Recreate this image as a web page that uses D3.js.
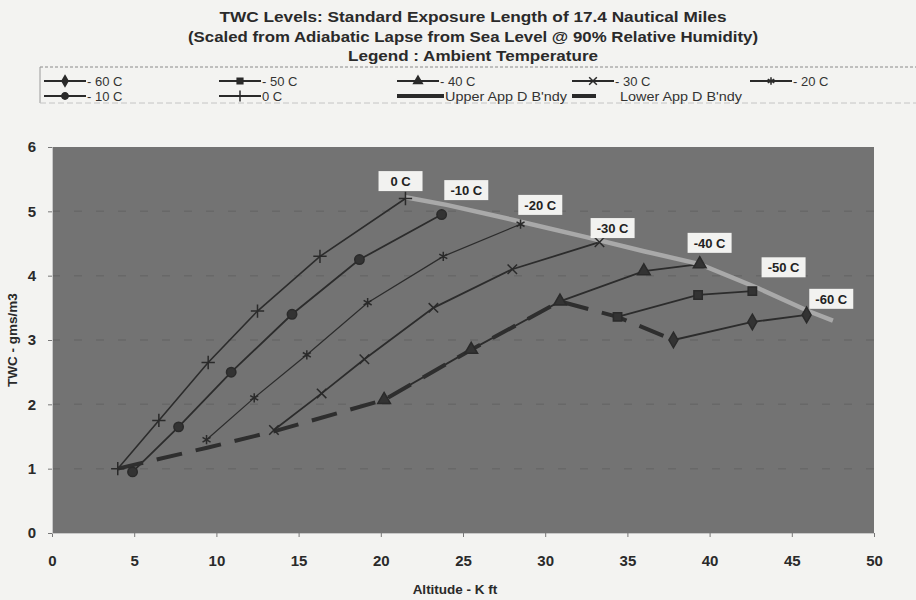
<!DOCTYPE html>
<html><head><meta charset="utf-8">
<script src="https://cdn.jsdelivr.net/npm/d3@7/dist/d3.min.js"></script>
<style>
html,body{margin:0;padding:0;background:#f3f3f1;}
svg{display:block;font-family:"Liberation Sans",Arial,sans-serif;}
</style></head>
<body>
<svg id="chart" width="916" height="600"></svg>
<script>
// ---- data ----
const titleLines = ["TWC Levels: Standard Exposure Length of 17.4 Nautical Miles",
  "(Scaled from Adiabatic Lapse from Sea Level @ 90% Relative Humidity)",
  "Legend : Ambient Temperature"];
const xTicks = [0,5,10,15,20,25,30,35,40,45,50];
const yTicks = [0,1,2,3,4,5,6];
const xTitle = "Altitude - K ft";
const yTitle = "TWC - gms/m3";

const seriesNames = ["- 60 C","- 50 C","- 40 C","- 30 C","- 20 C","- 10 C","0 C","Upper App D B'ndy","Lower App D B'ndy"];

const altM60 = [37.8, 42.6, 45.9];
const twcM60 = [3.00, 3.28, 3.39];
const altM50 = [34.4, 39.3, 42.6];
const twcM50 = [3.36, 3.70, 3.76];
const altM40 = [20.2, 25.5, 30.9, 36.0, 39.4];
const twcM40 = [2.07, 2.85, 3.60, 4.07, 4.18];
const altM30 = [13.5, 16.4, 19.0, 23.2, 28.0, 33.3];
const twcM30 = [1.60, 2.17, 2.70, 3.50, 4.10, 4.52];
const altM20 = [9.4, 12.3, 15.5, 19.2, 23.8, 28.5];
const twcM20 = [1.45, 2.10, 2.77, 3.58, 4.30, 4.80];
const altM10 = [4.9, 7.7, 10.9, 14.6, 18.7, 23.7];
const twcM10 = [0.95, 1.65, 2.50, 3.40, 4.25, 4.95];
const alt0 = [4.0, 6.5, 9.5, 12.5, 16.3, 21.5];
const twc0 = [1.00, 1.75, 2.65, 3.45, 4.30, 5.20];
const altUpper = [21.5, 24.0, 28.0, 32.5, 36.0, 39.4, 43.0, 46.0, 47.5];
const twcUpper = [5.22, 5.10, 4.87, 4.60, 4.38, 4.18, 3.80, 3.45, 3.30];
const altLower = [4.0, 9.5, 13.5, 20.2, 25.5, 30.9, 34.4, 37.8];
const twcLower = [1.00, 1.33, 1.58, 2.07, 2.85, 3.60, 3.36, 3.00];

const labelTexts = ["0 C","-10 C","-20 C","-30 C","-40 C","-50 C","-60 C"];
const labelAlt = [21.2, 25.2, 29.7, 34.1, 40.0, 44.5, 47.4];
const labelTwc = [5.47, 5.33, 5.10, 4.74, 4.51, 4.13, 3.64];

// ---- build ----
const svg = d3.select("#chart");
const x = d3.scaleLinear().domain([0,50]).range([52,874]);
const y = d3.scaleLinear().domain([0,6]).range([533,147]);

const seriesDefs = [
  {alt:altM60, twc:twcM60, sym:d3.symbolDiamond, fill:true, w:1.8},
  {alt:altM50, twc:twcM50, sym:d3.symbolSquare, fill:true, w:1.8},
  {alt:altM40, twc:twcM40, sym:d3.symbolTriangle, fill:true, w:1.8},
  {alt:altM30, twc:twcM30, sym:d3.symbolTimes, fill:false, w:1.8},
  {alt:altM20, twc:twcM20, sym:d3.symbolAsterisk, fill:false, w:1.2},
  {alt:altM10, twc:twcM10, sym:d3.symbolCircle, fill:true, w:1.8},
  {alt:alt0, twc:twc0, sym:d3.symbolPlus, fill:false, w:1.6}
];

// titles (condensed look)
const titleWidths = [507, 570, 250];
svg.selectAll("text.title").data(titleLines).join("text")
  .attr("x",473).attr("y",(d,i)=>22+i*19.5)
  .attr("text-anchor","middle").attr("font-weight","bold").attr("font-size",15)
  .attr("textLength",(d,i)=>titleWidths[i]).attr("lengthAdjust","spacingAndGlyphs")
  .attr("fill","#2a2a2a").text(d=>d);

// legend box
const lg = svg.append("g");
lg.append("line").attr("x1",40).attr("x2",916).attr("y1",67).attr("y2",67)
  .attr("stroke","#8a8a8a").attr("stroke-dasharray","3,2");
lg.append("line").attr("x1",40).attr("x2",40).attr("y1",67).attr("y2",103)
  .attr("stroke","#9a9a9a");
lg.append("line").attr("x1",40).attr("x2",916).attr("y1",103).attr("y2",103)
  .attr("stroke","#c4c4c4").attr("stroke-dasharray","6,3");
const legCols = [44,219,397,572,750];
seriesNames.forEach((name,i)=>{
  const col = legCols[i%5], row = i<5?81:96;
  const g = lg.append("g");
  if (i<7) {
    const s = seriesDefs[i];
    g.append("line").attr("x1",col).attr("x2",col+42).attr("y1",row).attr("y2",row)
      .attr("stroke","#2a2a2a").attr("stroke-width",2);
    g.append("path").attr("transform",`translate(${col+21},${row})`)
      .attr("d",d3.symbol().type(s.sym).size(s.fill?32:40)())
      .attr("fill",s.fill?"#2a2a2a":"none").attr("stroke","#2a2a2a").attr("stroke-width",1.5);
    g.append("text").attr("x",col+43).attr("y",row+4.5).attr("font-size",13)
      .attr("fill","#333").text(name);
  } else if (i===7) {
    g.append("line").attr("x1",col).attr("x2",col+47).attr("y1",row).attr("y2",row)
      .attr("stroke","#2a2a2a").attr("stroke-width",4);
    g.append("text").attr("x",col+48).attr("y",row+4.5).attr("font-size",13)
      .attr("textLength",122).attr("lengthAdjust","spacingAndGlyphs")
      .attr("fill","#333").text(name);
  } else {
    g.append("line").attr("x1",col).attr("x2",col+24).attr("y1",row).attr("y2",row)
      .attr("stroke","#2a2a2a").attr("stroke-width",4);
    g.append("text").attr("x",col+48).attr("y",row+4.5).attr("font-size",13)
      .attr("textLength",122).attr("lengthAdjust","spacingAndGlyphs")
      .attr("fill","#333").text(name);
  }
});

// plot area
svg.append("rect").attr("x",x(0)).attr("y",y(6)).attr("width",x(50)-x(0)).attr("height",y(0)-y(6))
  .attr("fill","#737373");
svg.append("g").selectAll("line").data(yTicks.slice(1,6)).join("line")
  .attr("x1",x(0)).attr("x2",x(50)).attr("y1",d=>y(d)).attr("y2",d=>y(d))
  .attr("stroke","#5e5e5e").attr("stroke-width",1.5).attr("stroke-dasharray","8,14").attr("opacity",0.5);

// axes
const xAxis = svg.append("g").attr("transform",`translate(0,${y(0)})`)
  .call(d3.axisBottom(x).tickValues(xTicks).tickSize(4).tickPadding(18).tickFormat(d3.format("d")));
const yAxis = svg.append("g").attr("transform",`translate(${x(0)},0)`)
  .call(d3.axisLeft(y).tickValues(yTicks).tickSize(4).tickPadding(12).tickFormat(d3.format("d")));
[xAxis,yAxis].forEach(a=>{
  a.select(".domain").attr("stroke","#c8c8c8");
  a.selectAll(".tick line").attr("stroke","#777");
  a.selectAll(".tick text").attr("font-size",15).attr("font-weight","bold")
    .attr("fill","#2a2a2a").attr("font-family","Liberation Sans, Arial, sans-serif");
});

svg.append("text").attr("x",455).attr("y",594).attr("text-anchor","middle")
  .attr("font-weight","bold").attr("font-size",13.5).attr("fill","#2a2a2a").text(xTitle);
svg.append("text").attr("transform",`translate(17,${(y(0)+y(6))/2}) rotate(-90)`)
  .attr("text-anchor","middle").attr("font-weight","bold").attr("font-size",13.5)
  .attr("fill","#2a2a2a").text(yTitle);

// series
const line = d3.line().x(d=>x(d[0])).y(d=>y(d[1]));
const zip = (a,b)=>a.map((v,i)=>[v,b[i]]);
const plot = svg.append("g");
seriesDefs.forEach(s=>{
  plot.append("path").attr("d",line(zip(s.alt,s.twc))).attr("fill","none")
    .attr("stroke","#2c2c2c").attr("stroke-width",s.w);
});
plot.append("path").attr("d",line(zip(altUpper,twcUpper))).attr("fill","none")
  .attr("stroke","#a9a9a9").attr("stroke-width",4.5);
plot.append("path").attr("d",line(zip(altLower,twcLower))).attr("fill","none")
  .attr("stroke","#2e2e2e").attr("stroke-width",4).attr("stroke-dasharray","26,14");
seriesDefs.forEach(s=>{
  plot.append("g").selectAll("path").data(zip(s.alt,s.twc)).join("path")
    .attr("transform",d=>`translate(${x(d[0])},${y(d[1])})`)
    .attr("d",d3.symbol().type(s.sym).size(s.fill?70:60)())
    .attr("fill",s.fill?"#333":"none").attr("stroke","#2a2a2a").attr("stroke-width",1.5);
});

// data labels
const lab = svg.append("g");
labelTexts.forEach((t,i)=>{
  const cx = x(labelAlt[i]), cy = y(labelTwc[i]);
  lab.append("rect").attr("x",cx-22).attr("y",cy-10).attr("width",44).attr("height",20)
    .attr("fill","#f2f2f0");
  lab.append("text").attr("x",cx).attr("y",cy+5).attr("text-anchor","middle")
    .attr("font-weight","bold").attr("font-size",13).attr("fill","#222").text(t);
});
</script>
</body></html>
